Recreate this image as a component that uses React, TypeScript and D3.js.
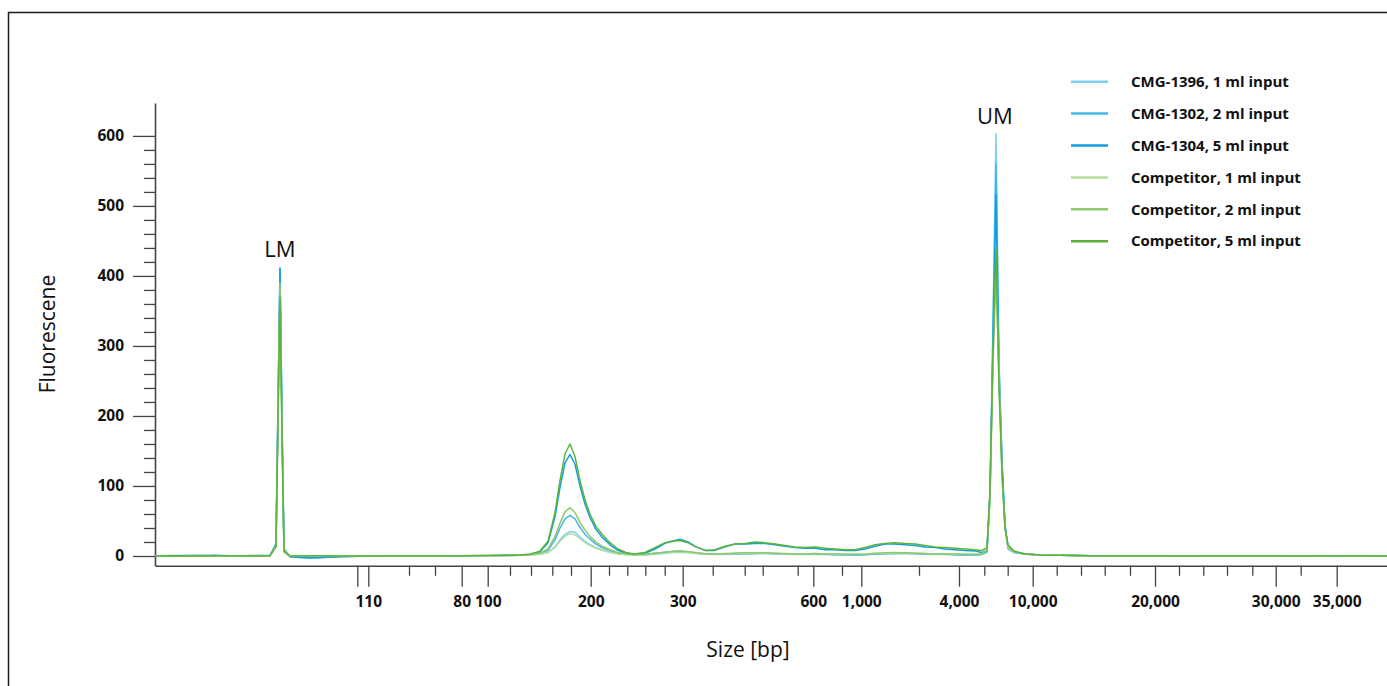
import React, { useEffect, useRef } from 'react';
import * as d3 from 'd3';

// migration time (s) of each sample point
const TIME = [
  0, 2, 4, 6, 8, 10, 11.5, 12.1, 12.3, 12.5,
  12.7, 12.9, 13.5, 14.5, 15.5, 16.5, 18.5, 21.5, 24.5, 27.5,
  30.5, 33.5, 35.5, 36.5, 37.5, 38.5, 39.3, 40, 40.5, 41,
  41.5, 42, 42.5, 43, 43.5, 44.1, 44.7, 45.5, 46.3, 47.1,
  47.9, 49, 50, 51, 51.7, 52.5, 53.3, 54.1, 55, 56,
  57, 58, 59, 60, 61, 62, 63, 64, 65, 66,
  67, 68, 69, 70, 71, 72, 73, 74, 75, 76,
  77, 78, 79, 80, 81, 82, 82.7, 83.2, 83.5, 83.8,
  84.1, 84.4, 84.7, 85, 85.3, 85.9, 87, 88.5, 90.5, 93.5,
  96.5, 99.5, 102.5, 105.5, 108.5, 111.5, 114.5, 117.5, 120.5, 123.2,
];

const CMG_1396 = [
  0.5, 1, 0, 0.5, 0, 1, 0.5, 15, 210, 405,
  190, 8, -1, -2, -3, -2.5, -1, 0, 0.5, 0,
  0.5, 0.5, 0.5, 1, 1.5, 2.5, 5, 13, 23, 31,
  35, 34, 27, 21, 16, 12, 9, 6, 3.5, 2,
  1.5, 1.5, 2.5, 4, 5, 5.5, 5, 3.5, 2.5, 2,
  2, 2.5, 3, 3, 3.5, 3, 2.5, 2, 2, 2.5,
  2, 1.5, 1.5, 1, 1.5, 2.5, 3, 3, 3.5, 3,
  2.5, 2, 2, 1.5, 1, 1, 2, 6, 90, 340,
  603, 280, 140, 45, 10, 5, 3, 1.5, 1, 0.5,
  0.5, 0, 0.5, 0.5, 0, 0.5, 0.5, 0, 0.5, 0.5,
];

const CMG_1302 = [
  0, 0.5, 1, 0, 0.5, 0.5, 1, 18, 215, 412,
  195, 10, -0.5, -1.5, -2.5, -2, -0.5, 0.5, 0, 0.5,
  0, 0.5, 1, 1.5, 2, 3.5, 8, 23, 40, 53,
  58, 53, 41, 31, 24, 17, 12, 8, 4, 2.5,
  2, 2.5, 4, 5.5, 6.5, 7, 6, 4.5, 3, 2.5,
  3, 3.5, 3.5, 4, 4, 3.5, 3, 2.5, 2.5, 3,
  2.5, 2, 2, 1.5, 2, 3, 3.5, 4, 4, 3.5,
  3, 2.5, 2.5, 2, 1.5, 1.5, 2, 6, 85, 320,
  560, 275, 135, 44, 11, 5, 3, 1.5, 1, 0.5,
  0, 0.5, 0.5, 0, 0.5, 0.5, 0, 0.5, 0.5, 0,
];

const CMG_1304 = [
  0.5, 0, 0.5, 1, 0, 0.5, 0.5, 16, 212, 410,
  192, 9, -1, -2, -2.5, -2, -1, 0, 0.5, 0,
  0.5, 0.5, 1, 1.5, 2.5, 6, 19, 56, 98, 133,
  145, 131, 100, 74, 55, 38, 27, 16, 8, 4,
  2, 4, 10, 18, 21, 24, 20, 13, 8, 8,
  13, 17, 17, 18, 18, 16, 14, 12, 11, 11,
  9, 9, 8, 8, 10, 14, 17, 17, 16, 15,
  13, 12, 10, 9, 8, 7, 5, 8, 85, 300,
  516, 260, 130, 42, 14, 6, 3, 1.5, 1, 0.5,
  0.5, 0.5, 0, 0.5, 0.5, 0, 0.5, 0.5, 0, 0.5,
];

const COMP_1 = [
  0, 0.5, 0.5, 0, 0.5, 0, 0.5, 14, 195, 380,
  175, 7, 0, -0.5, 0, 0, 0.5, 0.5, 0, 0.5,
  0.5, 0, 0.5, 1, 1.5, 2.5, 5, 12, 21, 28,
  32, 30, 25, 19, 15, 11, 8, 5, 3, 2,
  1.5, 2, 3, 4.5, 5.5, 6, 5, 4, 3, 2.5,
  3, 3.5, 4, 4, 4, 3.5, 3, 3, 3, 3.5,
  3, 2.5, 2.5, 2.5, 3, 3.5, 4, 4, 4.5, 4,
  3.5, 3, 3, 2.5, 2.5, 2, 3, 9, 80, 270,
  410, 260, 115, 40, 12, 6, 3, 1.5, 1, 0.5,
  0.5, 0, 0.5, 0.5, 0, 0.5, 0, 0.5, 0.5, 0,
];

const COMP_2 = [
  0.5, 0, 0.5, 0.5, 0, 0.5, 0, 15, 200, 390,
  180, 8, 0, 0, 0.5, 0, 0, 0.5, 0.5, 0,
  0.5, 0.5, 1, 1.5, 2, 4, 10, 28, 47, 63,
  69, 62, 48, 37, 28, 20, 14, 9, 5, 3,
  2, 2.5, 4, 5.5, 6.5, 7, 6, 4.5, 3.5, 3,
  3.5, 4, 4.5, 4.5, 4.5, 4, 3.5, 3, 3, 3.5,
  3, 3, 2.5, 2.5, 3, 4, 4.5, 5, 4.5, 4,
  3.5, 3, 3, 3, 2.5, 2.5, 3, 9, 88, 280,
  425, 250, 118, 40, 13, 6, 3, 1.5, 1, 0.5,
  0, 0.5, 0.5, 0, 0.5, 0, 0.5, 0.5, 0, 0.5,
];

const COMP_5 = [
  0, 0.5, 0, 0.5, 0.5, 0, 0.5, 13, 190, 370,
  170, 6, 0, 0, 0.5, 0.5, 0, 0, 0.5, 0.5,
  0.5, 1, 1, 1.5, 2.5, 7, 21, 62, 108, 146,
  160, 142, 108, 80, 60, 42, 31, 19, 10, 5,
  3, 5, 12, 19, 21, 22, 19, 13, 8, 9,
  14, 17, 18, 20, 19, 17, 15, 13, 12, 13,
  11, 10, 9, 9, 12, 16, 18, 19, 18, 17,
  15, 13, 12, 11, 10, 9, 8, 12, 95, 290,
  440, 240, 120, 40, 16, 7, 3, 1.5, 1, 0.5,
  0.5, 0.5, 0, 0.5, 0.5, 0.5, 0, 0.5, 0.5, 0,
];

const SERIES = [
  { name: 'CMG-1396, 1 ml input', color: '#7ccff0', values: CMG_1396 },
  { name: 'CMG-1302, 2 ml input', color: '#45b6e8', values: CMG_1302 },
  { name: 'CMG-1304, 5 ml input', color: '#0e9fde', values: CMG_1304 },
  { name: 'Competitor, 1 ml input', color: '#b6dd9f', values: COMP_1 },
  { name: 'Competitor, 2 ml input', color: '#8ec96b', values: COMP_2 },
  { name: 'Competitor, 5 ml input', color: '#5db23b', values: COMP_5 },
];

// ladder positions on the time axis and their size labels
const X_MAJOR = [20.23, 21.33, 30.67, 33.27, 43.57, 52.77, 65.83, 70.63, 80.4, 87.77, 100, 112.07, 118.17];
const X_MAJOR_LABELS = ['', '110', '80', '100', '200', '300', '600', '1,000', '4,000', '10,000', '20,000', '30,000', '35,000'];
const X_MINOR = [
  25.4, 28.0, 35.5, 37.6, 39.73, 41.6, 45.4, 47.23, 49.03, 50.97, 55.77, 58.97, 60.77, 64.27,
  68.7, 76.4, 82.93, 85.27, 90.17, 92.6, 94.97, 97.5, 102.4, 104.83, 107.2, 109.73, 114.57,
];
const Y_MAJOR = [0, 100, 200, 300, 400, 500, 600];
const Y_MINOR = d3.range(20, 600, 20).filter(v => v % 100 !== 0);

const MARKERS = [
  { label: 'LM', t: 12.5, v: 427 },
  { label: 'UM', t: 84.0, v: 617 },
];

const FONT = '"Open Sans", "DejaVu Sans", sans-serif';

const App = () => {
  const svgRef = useRef(null);

  useEffect(() => {
    const svg = d3.select(svgRef.current);
    svg.selectAll('*').remove();

    const width = 1387;
    const margin = { left: 155, right: 0 };

    const x = d3.scaleLinear()
      .domain([0, 123.2])
      .range([margin.left, width - margin.right]);

    const y = d3.scaleLinear()
      .domain([-14, 647])
      .range([565.8, 103]);

    // outer frame
    svg.append('rect')
      .attr('x', 8.5)
      .attr('y', 12.5)
      .attr('width', 1500)
      .attr('height', 800)
      .attr('fill', 'none')
      .attr('stroke', '#1a1a1a')
      .attr('stroke-width', 1.5);

    const axisColor = '#444';

    // x axis: minor then major ticks
    const xMinor = svg.append('g')
      .attr('transform', `translate(0, ${y(-14)})`)
      .call(d3.axisBottom(x).tickValues(X_MINOR).tickSize(10).tickSizeOuter(0).tickFormat(() => ''));
    xMinor.select('.domain').remove();

    const xMajor = svg.append('g')
      .attr('transform', `translate(0, ${y(-14)})`)
      .call(d3.axisBottom(x).tickValues(X_MAJOR).tickSize(21).tickSizeOuter(0).tickPadding(9)
        .tickFormat((d, i) => X_MAJOR_LABELS[i]));

    [xMinor, xMajor].forEach(g => {
      g.selectAll('line').attr('stroke', axisColor).attr('stroke-width', 1.3);
    });
    xMajor.select('.domain').attr('stroke', axisColor).attr('stroke-width', 1.6);
    xMajor.selectAll('text')
      .attr('font-family', FONT)
      .attr('font-weight', 700)
      .attr('font-size', 15.5)
      .attr('fill', '#111');

    // y axis
    const yMinor = svg.append('g')
      .attr('transform', `translate(${margin.left}, 0)`)
      .call(d3.axisLeft(y).tickValues(Y_MINOR).tickSize(11).tickSizeOuter(0).tickFormat(() => ''));
    yMinor.select('.domain').remove();

    const yMajor = svg.append('g')
      .attr('transform', `translate(${margin.left}, 0)`)
      .call(d3.axisLeft(y).tickValues(Y_MAJOR).tickSize(22).tickSizeOuter(0).tickPadding(9));

    [yMinor, yMajor].forEach(g => {
      g.selectAll('line').attr('stroke', axisColor).attr('stroke-width', 1.3);
    });
    yMajor.select('.domain').attr('stroke', axisColor).attr('stroke-width', 1.6);
    yMajor.selectAll('text')
      .attr('font-family', FONT)
      .attr('font-weight', 700)
      .attr('font-size', 15.5)
      .attr('fill', '#111');

    // traces
    const line = d3.line()
      .x((d, i) => x(TIME[i]))
      .y(d => y(d));

    SERIES.forEach(s => {
      svg.append('path')
        .datum(s.values)
        .attr('fill', 'none')
        .attr('stroke', s.color)
        .attr('stroke-width', 1.5)
        .attr('stroke-linejoin', 'round')
        .attr('d', line);
    });

    // marker labels
    MARKERS.forEach(m => {
      svg.append('text')
        .attr('x', x(m.t))
        .attr('y', y(m.v))
        .attr('text-anchor', 'middle')
        .attr('font-family', FONT)
        .attr('font-size', 22)
        .attr('fill', '#111')
        .text(m.label);
    });

    // legend
    const legend = svg.append('g')
      .attr('transform', 'translate(1071, 81.7)');

    SERIES.forEach((s, i) => {
      legend.append('line')
        .attr('x1', 0)
        .attr('x2', 37)
        .attr('y1', i * 31.9)
        .attr('y2', i * 31.9)
        .attr('stroke', s.color)
        .attr('stroke-width', 2.5);
      legend.append('text')
        .attr('x', 60)
        .attr('y', i * 31.9)
        .attr('dy', '0.35em')
        .attr('font-family', FONT)
        .attr('font-weight', 700)
        .attr('font-size', 15)
        .attr('fill', '#111')
        .text(s.name);
    });

    // axis titles
    svg.append('text')
      .attr('transform', `translate(748, 650)`)
      .attr('text-anchor', 'middle')
      .attr('dy', '0.35em')
      .attr('font-family', FONT)
      .attr('font-size', 21)
      .attr('fill', '#111')
      .text('Size [bp]');

    svg.append('text')
      .attr('transform', `translate(48, 334) rotate(-90)`)
      .attr('text-anchor', 'middle')
      .attr('dy', '0.35em')
      .attr('font-family', FONT)
      .attr('font-size', 21)
      .attr('fill', '#111')
      .text('Fluorescene');
  }, []);

  return (
    <svg
      ref={svgRef}
      width={1387}
      height={686}
      style={{ position: 'absolute', left: 0, top: 0, background: '#fff' }}
    />
  );
};

export default App;
